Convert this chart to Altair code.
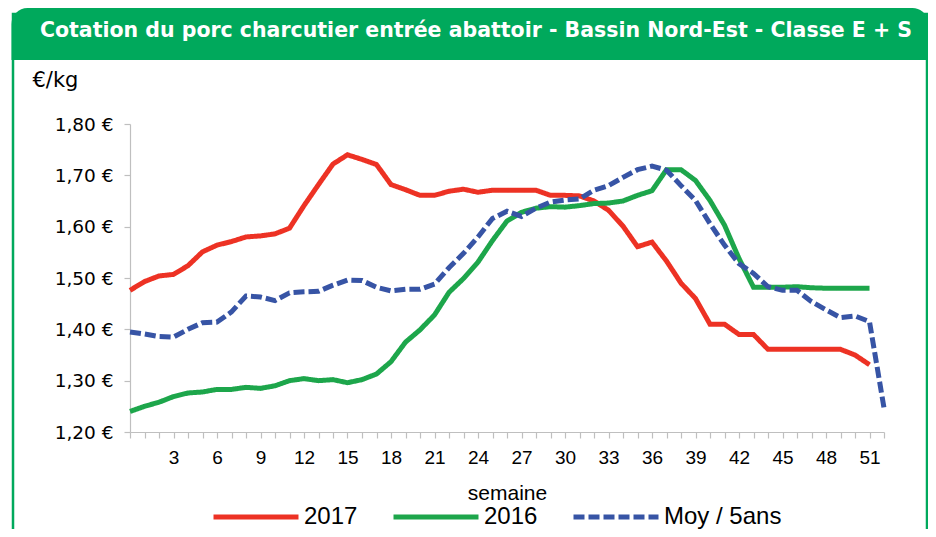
import altair as alt
import pandas as pd

# ---- data ----
series_names = ["2017", "2016", "Moy / 5ans"]
series_colors = ["#ED3224", "#1DA64B", "#3754A5"]

weeks_2017 = list(range(0, 52))
prix_2017 = [1.476, 1.493, 1.504, 1.507, 1.524, 1.551, 1.564, 1.571, 1.580, 1.582,
             1.586, 1.597, 1.641, 1.682, 1.722, 1.740, 1.731, 1.721, 1.682, 1.672,
             1.661, 1.661, 1.669, 1.673, 1.667, 1.671, 1.671, 1.671, 1.671, 1.661,
             1.661, 1.660, 1.650, 1.632, 1.601, 1.561, 1.570, 1.533, 1.490, 1.460,
             1.410, 1.410, 1.390, 1.390, 1.361, 1.361, 1.361, 1.361, 1.361, 1.361,
             1.350, 1.331]

weeks_2016 = list(range(0, 52))
prix_2016 = [1.240, 1.250, 1.258, 1.269, 1.276, 1.278, 1.283, 1.283, 1.287, 1.285,
             1.290, 1.300, 1.304, 1.300, 1.302, 1.296, 1.302, 1.313, 1.337, 1.375,
             1.399, 1.428, 1.472, 1.499, 1.531, 1.573, 1.611, 1.628, 1.636, 1.639,
             1.638, 1.641, 1.645, 1.646, 1.650, 1.661, 1.670, 1.711, 1.711, 1.690,
             1.651, 1.603, 1.538, 1.482, 1.482, 1.482, 1.483, 1.481, 1.480, 1.480,
             1.480, 1.480]

weeks_moy = list(range(0, 53))
prix_moy = [1.395, 1.391, 1.386, 1.385, 1.400, 1.413, 1.414, 1.434, 1.465, 1.463,
            1.456, 1.471, 1.473, 1.474, 1.486, 1.496, 1.495, 1.482, 1.475, 1.478,
            1.478, 1.488, 1.520, 1.548, 1.580, 1.616, 1.630, 1.620, 1.636, 1.648,
            1.652, 1.654, 1.671, 1.680, 1.696, 1.711, 1.718, 1.710, 1.680, 1.651,
            1.606, 1.564, 1.528, 1.509, 1.483, 1.476, 1.476, 1.454, 1.438, 1.423,
            1.426, 1.415, 1.247]

x_ticks = list(range(0, 53))
y_ticks = [1.20, 1.30, 1.40, 1.50, 1.60, 1.70, 1.80]

title_text = "Cotation du porc charcutier entrée abattoir - Bassin Nord-Est  - Classe E + S"

df = pd.concat([
    pd.DataFrame({"semaine": weeks_2017, "prix": prix_2017, "serie": "2017"}),
    pd.DataFrame({"semaine": weeks_2016, "prix": prix_2016, "serie": "2016"}),
    pd.DataFrame({"semaine": weeks_moy, "prix": prix_moy, "serie": "Moy / 5ans"}),
], ignore_index=True)

W, H = 754, 308
FONT = "Liberation Sans"
WIDE = "DejaVu Sans"
GREEN = "#00A95C"
GREY = "#BFBFBF"

deco = alt.Chart(pd.DataFrame({"d": [0]}))

frame = deco.mark_rect(fillOpacity=0, stroke=GREEN, strokeWidth=2.5).encode(
    x=alt.value(-117), x2=alt.value(797), y=alt.value(-110), y2=alt.value(430)
)
header = deco.mark_rect(fill=GREEN, cornerRadiusTopLeft=16, cornerRadiusTopRight=16).encode(
    x=alt.value(-118.5), x2=alt.value(798.5), y=alt.value(-116), y2=alt.value(-64)
)
title = deco.mark_text(
    text=title_text, font=WIDE, fontSize=20.5, fontWeight="bold", color="white",
    align="center", baseline="middle"
).encode(x=alt.value(346), y=alt.value(-93))

legend = alt.Legend(
    orient="none", legendX=81, legendY=348, direction="horizontal",
    title=None, symbolType="stroke", symbolSize=7225, symbolStrokeWidth=5,
    labelFont=FONT, labelFontSize=24, labelColor="black", labelOffset=3,
    columnPadding=25, padding=0,
)

lines = alt.Chart(df).mark_line(strokeWidth=5, strokeCap="butt").encode(
    x=alt.X(
        "semaine:Q",
        scale=alt.Scale(domain=[0, 52], nice=False, zero=False),
        axis=alt.Axis(
            values=x_ticks,
            labelExpr="datum.value % 3 == 0 && datum.value > 0 ? datum.value : ''",
            tickSize=6, tickColor=GREY, domainColor=GREY, tickWidth=1.2, domainWidth=1.2,
            labelFont=FONT, labelFontSize=19, labelColor="black", labelPadding=10,
            labelOverlap=False, labelFlush=False, grid=False,
            title="semaine", titleFont=FONT, titleFontSize=21, titleFontWeight="normal",
            titleColor="black", titlePadding=15,
        ),
    ),
    y=alt.Y(
        "prix:Q",
        scale=alt.Scale(domain=[1.2, 1.8], nice=False, zero=False),
        axis=alt.Axis(
            values=y_ticks,
            labelExpr="replace(format(datum.value, '.2f'), '.', ',') + ' €'",
            tickSize=6, tickColor=GREY, domainColor=GREY, tickWidth=1.2, domainWidth=1.2,
            labelFont=WIDE, labelFontSize=18.5, labelColor="black", labelPadding=11,
            grid=False,
            title="€/kg", titleAngle=0, titleX=-98, titleY=-44, titleAlign="left",
            titleBaseline="middle", titleFont=WIDE, titleFontSize=21,
            titleFontWeight="normal", titleColor="black",
        ),
    ),
    color=alt.Color(
        "serie:N",
        scale=alt.Scale(domain=series_names, range=series_colors),
        legend=legend,
    ),
    strokeDash=alt.StrokeDash(
        "serie:N",
        scale=alt.Scale(domain=series_names, range=[[1, 0], [1, 0], [11, 4]]),
        legend=legend,
    ),
)

chart = alt.layer(frame, header, title, lines).properties(
    width=W, height=H,
    autosize=alt.AutoSizeParams(type="none"),
    padding={"left": 122, "top": 116, "right": 44, "bottom": 97},
    background="white",
).configure_view(stroke=None)

chart.save("out.html", embed_options={"renderer": "svg", "actions": False})
